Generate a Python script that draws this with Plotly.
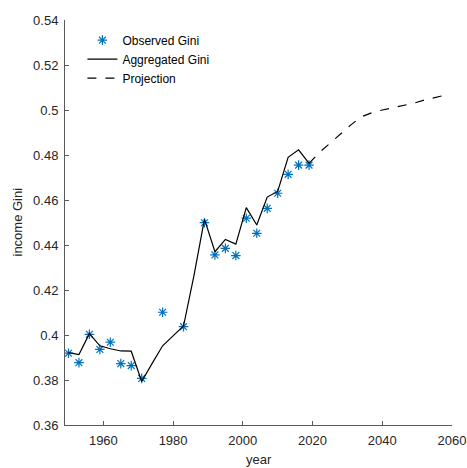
import plotly.graph_objects as go

obs_years = [1950, 1953, 1956, 1959, 1962, 1965, 1968, 1971, 1977, 1983, 1989, 1992,
             1995, 1998, 2001, 2004, 2007, 2010, 2013, 2016, 2019]
obs_gini = [0.3919, 0.3877, 0.4003, 0.3936, 0.3968, 0.3873, 0.3864, 0.3807, 0.4101,
            0.4037, 0.4499, 0.4356, 0.4385, 0.4353, 0.4519, 0.4452, 0.4563, 0.4630,
            0.4714, 0.4755, 0.4755]

agg_years = [1950, 1953, 1956, 1959, 1962, 1965, 1968, 1971, 1974, 1977, 1980, 1983,
             1986, 1989, 1992, 1995, 1998, 2001, 2004, 2007, 2010, 2013, 2016, 2019]
agg_gini = [0.3922, 0.3913, 0.4006, 0.3952, 0.3939, 0.3929, 0.3928, 0.3793, 0.3874,
            0.3952, 0.3996, 0.4040, 0.4265, 0.4515, 0.4370, 0.4425, 0.4404, 0.4566,
            0.4489, 0.4613, 0.4638, 0.4790, 0.4823, 0.4763]

proj_years = [2019, 2022, 2025, 2028, 2031, 2034, 2037, 2040, 2043, 2046, 2049, 2052,
              2055, 2058]
proj_gini = [0.4763, 0.4812, 0.4852, 0.4893, 0.4934, 0.4970, 0.4988, 0.5000, 0.5010,
             0.5020, 0.5030, 0.5044, 0.5056, 0.5066]

x_ticks = [1960, 1980, 2000, 2020, 2040, 2060]
y_ticks = [0.36, 0.38, 0.40, 0.42, 0.44, 0.46, 0.48, 0.50, 0.52, 0.54]
y_ticktext = ["0.36", "0.38", "0.4", "0.42", "0.44", "0.46", "0.48", "0.5", "0.52", "0.54"]

fig = go.Figure()
fig.add_trace(go.Scatter(
    x=obs_years, y=obs_gini, mode="markers", name="Observed Gini",
    marker=dict(symbol="asterisk-open", size=8, color="#0072BD",
                line=dict(color="#0072BD", width=1.2)),
))
fig.add_trace(go.Scatter(
    x=agg_years, y=agg_gini, mode="lines", name="Aggregated Gini",
    line=dict(color="black", width=1.2),
))
fig.add_trace(go.Scatter(
    x=proj_years, y=proj_gini, mode="lines", name="Projection",
    line=dict(color="black", width=1.2, dash="dash"),
))

axis_color = "#5a5a5a"
font = dict(family="Liberation Sans, Arial, sans-serif", size=13, color="#262626")

fig.update_layout(
    width=467, height=468,
    margin=dict(l=65, r=15, t=20, b=43),
    paper_bgcolor="white", plot_bgcolor="white",
    font=font,
    showlegend=True,
    legend=dict(x=0.045, y=0.986, xanchor="left", yanchor="top",
                bgcolor="rgba(0,0,0,0)", font=dict(size=12, color="black"),
                tracegroupgap=0),
    xaxis=dict(range=[1949, 2060], tickvals=x_ticks, ticks="inside", ticklen=4,
               showline=True, linecolor=axis_color, linewidth=1, tickcolor=axis_color,
               showgrid=False, zeroline=False, automargin=False, ticklabelstandoff=3,
               ticklabeloverflow="allow"),
    yaxis=dict(range=[0.36, 0.54], tickvals=y_ticks, ticktext=y_ticktext,
               ticks="inside", ticklen=4,
               showline=True, linecolor=axis_color, linewidth=1, tickcolor=axis_color,
               showgrid=False, zeroline=False, automargin=False, ticklabelstandoff=3),
    annotations=[
        dict(text="year", xref="paper", yref="paper", x=0.5, y=-0.0864,
             xanchor="center", yanchor="middle", showarrow=False,
             font=dict(size=13, color="#262626")),
        dict(text="income Gini", xref="paper", yref="paper", x=-0.124, y=0.5,
             xanchor="center", yanchor="middle", showarrow=False, textangle=-90,
             font=dict(size=13, color="#262626")),
    ],
)

# remove the default page margin so the 467x468 figure fills the window exactly
fig.write_html(
    "out.html",
    config={"displayModeBar": False},
    post_script="document.body.style.margin='0';document.body.style.overflow='hidden';",
)
